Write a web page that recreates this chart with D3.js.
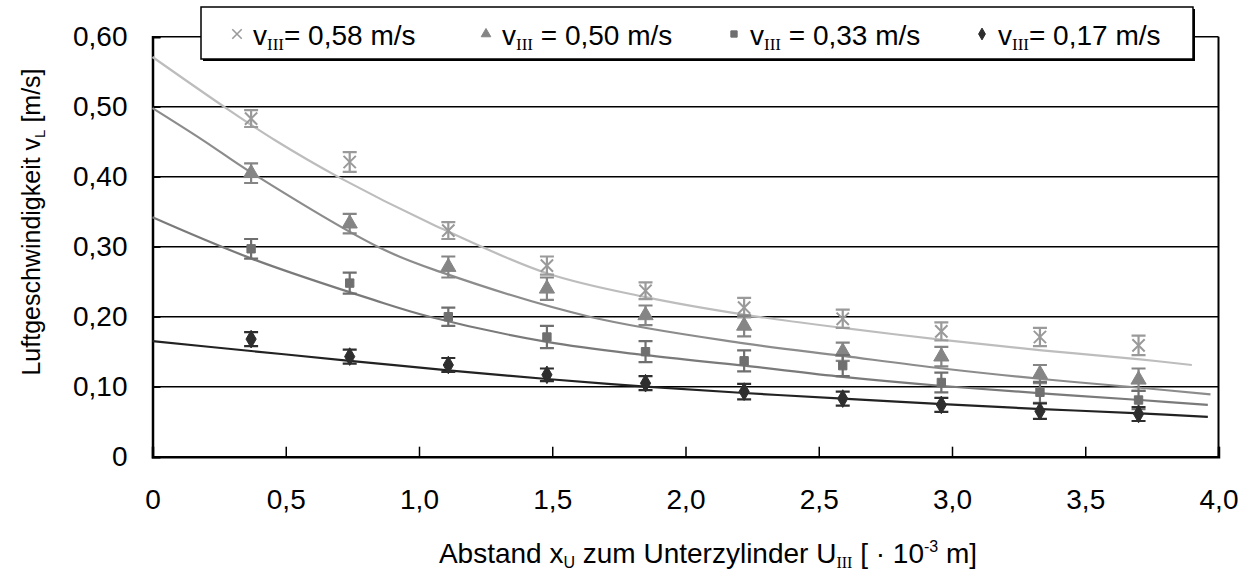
<!DOCTYPE html>
<html>
<head>
<meta charset="utf-8">
<script src="https://cdn.jsdelivr.net/npm/d3@7"></script>
<style>
  body { margin: 0; background: #fff; }
  text { font-family: "Liberation Sans", Arial, sans-serif; fill: #000; }
</style>
</head>
<body>
<svg id="chart" width="1253" height="572"></svg>
<script>
// measurement positions (x in 10^-3 m)
const xPos = [0.37, 0.74, 1.11, 1.48, 1.85, 2.22, 2.59, 2.96, 3.33, 3.70];

// measured air speeds and error half-widths per series
const v058 = [0.483, 0.421, 0.323, 0.273, 0.237, 0.213, 0.197, 0.179, 0.171, 0.159];
const e058 = [0.012, 0.014, 0.012, 0.013, 0.012, 0.014, 0.013, 0.013, 0.013, 0.014];
const v050 = [0.405, 0.333, 0.271, 0.240, 0.202, 0.187, 0.150, 0.143, 0.118, 0.110];
const e050 = [0.014, 0.014, 0.015, 0.016, 0.014, 0.015, 0.013, 0.014, 0.013, 0.016];
const v033 = [0.297, 0.248, 0.200, 0.171, 0.150, 0.137, 0.130, 0.106, 0.092, 0.081];
const e033 = [0.014, 0.015, 0.013, 0.016, 0.015, 0.015, 0.015, 0.014, 0.015, 0.013];
const v017 = [0.168, 0.143, 0.131, 0.117, 0.105, 0.093, 0.083, 0.074, 0.065, 0.061];
const e017 = [0.010, 0.010, 0.010, 0.009, 0.010, 0.011, 0.010, 0.010, 0.011, 0.010];

// trend curves, points
const c058x = [0, 0.28, 0.46, 0.70, 1.04, 1.48, 1.85, 2.22, 2.59, 2.965, 3.337, 3.706, 3.90];
const c058y = [0.571, 0.497, 0.452, 0.399, 0.334, 0.262, 0.228, 0.203, 0.184, 0.167, 0.152, 0.139, 0.131];
const c050x = [0, 0.19, 0.37, 0.855, 1.08, 1.64, 2.22, 2.59, 2.965, 3.337, 3.706, 3.97];
const c050y = [0.498, 0.452, 0.406, 0.298, 0.264, 0.200, 0.162, 0.144, 0.126, 0.111, 0.0985, 0.089];
const c033x = [0, 0.372, 0.83, 1.04, 1.48, 1.85, 2.22, 2.59, 2.965, 3.337, 3.706, 3.96];
const c033y = [0.342, 0.283, 0.224, 0.200, 0.164, 0.145, 0.130, 0.114, 0.101, 0.0905, 0.081, 0.074];
const c017x = [0, 0.37, 0.74, 1.12, 1.48, 1.85, 2.22, 2.59, 2.965, 3.337, 3.706, 3.96];
const c017y = [0.165, 0.151, 0.137, 0.123, 0.111, 0.100, 0.091, 0.083, 0.075, 0.068, 0.062, 0.057];

const xTicks = [0, 0.5, 1.0, 1.5, 2.0, 2.5, 3.0, 3.5, 4.0];
const xTickLabels = ["0", "0,5", "1,0", "1,5", "2,0", "2,5", "3,0", "3,5", "4,0"];
const yTicks = [0, 0.1, 0.2, 0.3, 0.4, 0.5, 0.6];
const yTickLabels = ["0", "0,10", "0,20", "0,30", "0,40", "0,50", "0,60"];
const legendValues = ["0,58", "0,50", "0,33", "0,17"];

const series = [
  { vals: v058, errs: e058, cx: c058x, cy: c058y, sym: d3.symbolTimes, size: 100, mark: "#9a9a9a", curve: "#bdbdbd", eq: "= " },
  { vals: v050, errs: e050, cx: c050x, cy: c050y, sym: d3.symbolTriangle, size: 100, mark: "#858585", curve: "#8c8c8c", eq: " = " },
  { vals: v033, errs: e033, cx: c033x, cy: c033y, sym: d3.symbolSquare, size: 70, mark: "#6f6f6f", curve: "#7a7a7a", eq: " = " },
  { vals: v017, errs: e017, cx: c017x, cy: c017y, sym: d3.symbolDiamond, size: 90, mark: "#2e2e2e", curve: "#222222", eq: "= " }
];

const svg = d3.select("#chart");
const x = d3.scaleLinear().domain([0, 4]).range([152.5, 1218.5]);
const y = d3.scaleLinear().domain([0, 0.6]).range([456.7, 36.7]);

// gridlines
svg.append("g").selectAll("line")
  .data(yTicks.filter(d => d > 0))
  .join("line")
  .attr("x1", x(0)).attr("x2", x(4))
  .attr("y1", d => y(d)).attr("y2", d => y(d))
  .attr("stroke", "#000").attr("stroke-width", 1.5);

// right frame
svg.append("line")
  .attr("x1", x(4)).attr("x2", x(4)).attr("y1", y(0.6)).attr("y2", y(0))
  .attr("stroke", "#000").attr("stroke-width", 2);

// axes
const xAxis = svg.append("g")
  .attr("transform", `translate(0,${y(0)})`)
  .call(d3.axisBottom(x).tickValues(xTicks).tickSize(-10).tickPadding(32)
    .tickFormat((d, i) => xTickLabels[i]));
const yAxis = svg.append("g")
  .attr("transform", `translate(${x(0)},0)`)
  .call(d3.axisLeft(y).tickValues(yTicks).tickSize(-8).tickPadding(25)
    .tickFormat((d, i) => yTickLabels[i]));
[xAxis, yAxis].forEach(g => {
  g.select(".domain").attr("stroke", "#000").attr("stroke-width", 2.5);
  g.selectAll(".tick line").attr("stroke", "#000").attr("stroke-width", 1.5);
  g.selectAll(".tick text").attr("font-size", 28).attr("fill", "#000")
    .attr("font-family", "'Liberation Sans', Arial, sans-serif");
});

// curves
const line = d3.line().x(d => x(d[0])).y(d => y(d[1])).curve(d3.curveCatmullRom);
series.forEach(s => {
  svg.append("path")
    .datum(s.cx.map((v, i) => [v, s.cy[i]]))
    .attr("d", line)
    .attr("fill", "none").attr("stroke", s.curve).attr("stroke-width", 2.2);
});

// error bars and markers
series.forEach(s => {
  const g = svg.append("g");
  const pts = xPos.map((xv, i) => ({ x: xv, v: s.vals[i], e: s.errs[i] }));
  g.selectAll(".eb").data(pts).join("path")
    .attr("d", d => {
      const px = x(d.x), t = y(d.v + d.e), b = y(d.v - d.e);
      return `M${px},${t}V${b}M${px - 7},${t}H${px + 7}M${px - 7},${b}H${px + 7}`;
    })
    .attr("fill", "none").attr("stroke", s.mark).attr("stroke-width", 2.2);
  const isX = s.sym === d3.symbolTimes;
  g.selectAll(".mk").data(pts).join("path")
    .attr("transform", d => `translate(${x(d.x)},${y(d.v)})`)
    .attr("d", d3.symbol().type(s.sym).size(s.size))
    .attr("fill", isX ? "none" : s.mark)
    .attr("stroke", s.mark).attr("stroke-width", isX ? 2 : 1);
});

// legend
const lg = svg.append("g");
lg.append("rect").attr("x", 203).attr("y", 9).attr("width", 992).attr("height", 52).attr("fill", "#000");
lg.append("rect").attr("x", 201).attr("y", 7).attr("width", 992).attr("height", 52)
  .attr("fill", "#fff").attr("stroke", "#000").attr("stroke-width", 1.5);
const legX = [237, 486, 734, 982];
series.forEach((s, i) => {
  const isX = s.sym === d3.symbolTimes;
  lg.append("path")
    .attr("transform", `translate(${legX[i]},34)`)
    .attr("d", d3.symbol().type(s.sym).size(isX ? 60 : 40))
    .attr("fill", isX ? "none" : s.mark)
    .attr("stroke", s.mark).attr("stroke-width", isX ? 1.6 : 1);
  const t = lg.append("text").attr("x", legX[i] + 16).attr("y", 45).attr("font-size", 28);
  t.append("tspan").text("v");
  t.append("tspan").attr("dy", 5).attr("font-size", 17)
    .attr("font-family", "'Liberation Serif', 'Times New Roman', serif").text("III");
  t.append("tspan").attr("dy", -5).text(s.eq + legendValues[i] + " m/s");
});

// axis titles
const xt = svg.append("text").attr("x", 708).attr("y", 563).attr("text-anchor", "middle").attr("font-size", 28);
xt.append("tspan").text("Abstand x");
xt.append("tspan").attr("dy", 5).attr("font-size", 16).text("U");
xt.append("tspan").attr("dy", -5).text(" zum Unterzylinder U");
xt.append("tspan").attr("dy", 5).attr("font-size", 16)
  .attr("font-family", "'Liberation Serif', 'Times New Roman', serif").text("III");
xt.append("tspan").attr("dy", -5).text(" [ \u00b7 10");
xt.append("tspan").attr("dy", -11).attr("font-size", 16).text("-3");
xt.append("tspan").attr("dy", 11).text(" m]");

const yt = svg.append("text")
  .attr("transform", "translate(40,222) rotate(-90)")
  .attr("text-anchor", "middle").attr("font-size", 25);
yt.append("tspan").text("Luftgeschwindigkeit v");
yt.append("tspan").attr("dy", 5).attr("font-size", 15).text("L");
yt.append("tspan").attr("dy", -5).text(" [m/s]");
</script>
</body>
</html>
